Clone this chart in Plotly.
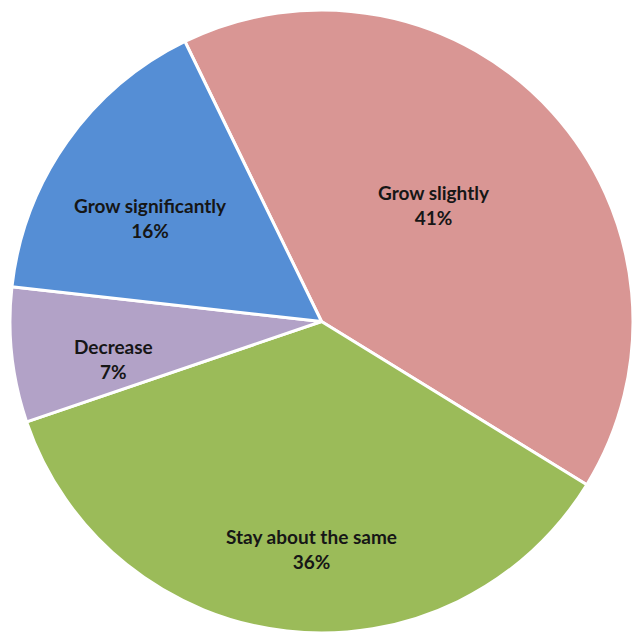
import math
import plotly.graph_objects as go

# Survey outlook shares
categories = ["Grow slightly", "Stay about the same", "Decrease", "Grow significantly"]
shares = [41, 36, 7, 16]
slice_colors = ["#D99694", "#9BBB59", "#B2A2C7", "#558ED5"]

# Label placement: distance from centre as a fraction of the radius
label_radius = [0.52, 0.73, 0.68, 0.64]
label_angle_shift = -4  # degrees, applied to each slice's mid-angle

W, H = 633, 636
start_angle = -26  # first slice starts this many degrees from 12 o'clock
dom_x = [10 / W, 1.0]
dom_y = [0.0, 1 - 7 / H]

fig = go.Figure(
    go.Pie(
        labels=categories,
        values=shares,
        sort=False,
        direction="clockwise",
        rotation=start_angle,
        marker=dict(colors=slice_colors, line=dict(color="white", width=3)),
        textinfo="none",
        domain=dict(x=dom_x, y=dom_y),
        hoverinfo="label+percent",
    )
)

# Pie geometry in pixels (plotly fits the circle into the domain box)
cx = (dom_x[0] + dom_x[1]) / 2 * W
cy = H - (dom_y[0] + dom_y[1]) / 2 * H
radius = min((dom_x[1] - dom_x[0]) * W, (dom_y[1] - dom_y[0]) * H) / 2

total = sum(shares)
cum = 0
for name, val, frac in zip(categories, shares, label_radius):
    mid = start_angle + (cum + val / 2) / total * 360 + label_angle_shift
    cum += val
    a = math.radians(mid)
    px = cx + frac * radius * math.sin(a)
    py = cy - frac * radius * math.cos(a)
    pct = round(val / total * 100)
    fig.add_annotation(
        x=px / W,
        y=1 - py / H,
        xref="paper",
        yref="paper",
        text=f"<b>{name}</b><br><b>{pct}%</b>",
        showarrow=False,
        align="center",
        xanchor="center",
        yanchor="middle",
        font=dict(family="Lato, Open Sans, sans-serif", size=19, color="#161616"),
    )

fig.update_layout(
    width=W,
    height=H,
    margin=dict(l=0, r=0, t=0, b=0),
    paper_bgcolor="white",
    showlegend=False,
)

fig.write_html("out.html")
